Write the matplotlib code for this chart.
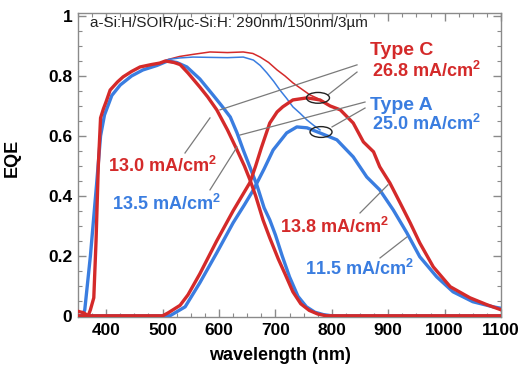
import matplotlib
matplotlib.use("Agg")
import matplotlib.pyplot as plt
from matplotlib.patches import Ellipse
from matplotlib.ticker import MultipleLocator, FuncFormatter

plt.rcParams['font.family'] = ['Liberation Sans', 'DejaVu Sans']
plt.rcParams['mathtext.fontset'] = 'custom'
plt.rcParams['mathtext.rm'] = 'Liberation Sans:bold'
plt.rcParams['mathtext.bf'] = 'Liberation Sans:bold'

RED = '#d42a2a'
BLUE = '#3a7de0'
GRAY = '#8a8a8a'

# Type C top cell (red, thick)
wl_top_c = [350, 360, 368, 372, 378, 382, 386, 390, 395, 400, 407, 420, 430, 445, 460, 480, 495, 505,
            520, 531, 545, 566, 580, 596, 615, 632, 645, 655, 665, 678, 690, 705, 717, 731, 745, 760,
            775, 790, 800, 1100]
eqe_top_c = [0.015, 0.01, 0.0, 0.02, 0.06, 0.25, 0.5, 0.66, 0.69, 0.715, 0.753, 0.78, 0.797, 0.815, 0.83,
             0.838, 0.843, 0.85, 0.845, 0.838, 0.81, 0.763, 0.73, 0.687, 0.62, 0.553, 0.50, 0.453, 0.40,
             0.32, 0.26, 0.19, 0.14, 0.08, 0.04, 0.018, 0.006, 0.0, 0.0, 0.0]

# Type A top cell (blue, thick)
wl_top_a = [350, 358, 362, 372, 383, 390, 397, 403, 410, 425, 445, 465, 490, 509, 525, 543,
            566, 590, 605, 620, 632, 643, 655, 667, 680, 690, 700, 712, 725, 740, 755, 770, 785, 800, 1100]
eqe_top_a = [0.0, 0.0, 0.02, 0.2, 0.44, 0.6, 0.67, 0.7, 0.735, 0.77, 0.80, 0.82, 0.835,
             0.85, 0.845, 0.83, 0.79, 0.735, 0.70, 0.663, 0.61, 0.553, 0.495, 0.437, 0.36, 0.32, 0.27,
             0.20, 0.13, 0.065, 0.03, 0.012, 0.004, 0.0, 0.0]

# Type C bottom cell (red, thick)
wl_bot_c = [350, 500, 510, 531, 545, 566, 596, 625, 655, 665, 675, 690, 703, 713, 731, 756, 779, 797,
            815, 838, 856, 874, 885, 903, 921, 939, 956, 980, 1010, 1045, 1075, 1100]
eqe_bot_c = [0.0, 0.0, 0.01, 0.035, 0.07, 0.14, 0.25, 0.35, 0.445, 0.50, 0.56, 0.643, 0.68, 0.697, 0.72,
             0.727, 0.72, 0.70, 0.687, 0.643, 0.58, 0.547, 0.497, 0.443, 0.377, 0.31, 0.243, 0.163,
             0.097, 0.06, 0.037, 0.02]

# Type A bottom cell (blue, thick)
wl_bot_a = [350, 513, 540, 566, 596, 625, 645, 661, 680, 696, 720, 738, 756, 779, 809, 838, 862, 885,
            909, 933, 956, 986, 1015, 1050, 1086, 1100]
eqe_bot_a = [0.0, 0.0, 0.03, 0.11, 0.21, 0.31, 0.37, 0.42, 0.49, 0.553, 0.61, 0.63, 0.627, 0.61, 0.587,
             0.53, 0.463, 0.42, 0.353, 0.277, 0.197, 0.13, 0.08, 0.047, 0.03, 0.025]

# Total (thin lines)
wl_tot_c = [495, 510, 530, 554, 584, 615, 643, 660, 673, 688, 703, 717, 731, 746, 761, 775]
eqe_tot_c = [0.843, 0.855, 0.865, 0.872, 0.88, 0.878, 0.88, 0.875, 0.863, 0.845, 0.82, 0.80, 0.777,
             0.757, 0.737, 0.725]
wl_tot_a = [495, 510, 530, 554, 584, 615, 643, 661, 673, 685, 697, 708, 720, 731, 744, 756, 768, 779]
eqe_tot_a = [0.843, 0.855, 0.86, 0.863, 0.862, 0.861, 0.863, 0.853, 0.835, 0.81, 0.782, 0.753, 0.725,
             0.697, 0.675, 0.653, 0.635, 0.62]

x_ticks = [400, 500, 600, 700, 800, 900, 1000, 1100]
y_ticks = [0, 0.2, 0.4, 0.6, 0.8, 1.0]

fig = plt.figure(figsize=(5.24, 3.68), dpi=100)
ax = fig.add_axes([78 / 524, (368 - 317) / 368, 423 / 524, 304 / 368])

ax.plot(wl_tot_c, eqe_tot_c, color=RED, lw=1.1, zorder=3)
ax.plot(wl_tot_a, eqe_tot_a, color=BLUE, lw=1.1, zorder=3)
ax.plot(wl_top_a, eqe_top_a, color=BLUE, lw=2.4, zorder=4)
ax.plot(wl_bot_a, eqe_bot_a, color=BLUE, lw=2.4, zorder=4)
ax.plot(wl_top_c, eqe_top_c, color=RED, lw=2.4, zorder=5)
ax.plot(wl_bot_c, eqe_bot_c, color=RED, lw=2.4, zorder=5)

ax.set_xlim(350, 1100)
ax.set_ylim(-0.004, 1.01)
ax.set_xticks(x_ticks)
ax.set_yticks(y_ticks)
ax.xaxis.set_minor_locator(MultipleLocator(25))
ax.yaxis.set_minor_locator(MultipleLocator(0.05))
ax.yaxis.set_major_formatter(FuncFormatter(lambda v, p: '%g' % v))
ax.tick_params(which='both', direction='in', top=True, right=True, color=GRAY)
ax.tick_params(which='major', length=6, width=1, labelsize=12.5, pad=4)
ax.tick_params(which='minor', length=3, width=0.8)
for lab in ax.get_xticklabels() + ax.get_yticklabels():
    lab.set_fontweight('bold')
for s in ax.spines.values():
    s.set_color(GRAY)
    s.set_linewidth(1)

fig.text(12 / 524, 1 - 158 / 368, 'EQE', rotation=90, ha='center', va='center',
         fontsize=13, fontweight='bold')
fig.text(280 / 524, 1 - 355 / 368, 'wavelength (nm)', ha='center', va='center',
         fontsize=13, fontweight='bold')

ax.text(371, 0.978, 'a-Si:H/SOIR/µc-Si:H: 290nm/150nm/3µm', ha='left', va='center',
        fontsize=11, color='#222222')

def lab(x, y, s, c, size=13):
    ax.text(x, y, s, color=c, fontsize=size, fontweight='bold', ha='left', va='baseline', zorder=6)

lab(868, 0.87, 'Type C', RED, 14)
lab(871, 0.797, r'26.8 mA/cm$^\mathbf{2}$', RED)
lab(868, 0.687, 'Type A', BLUE, 14)
lab(871, 0.62, r'25.0 mA/cm$^\mathbf{2}$', BLUE)
lab(403, 0.48, r'13.0 mA/cm$^\mathbf{2}$', RED)
lab(410, 0.353, r'13.5 mA/cm$^\mathbf{2}$', BLUE)
lab(708, 0.277, r'13.8 mA/cm$^\mathbf{2}$', RED)
lab(752, 0.137, r'11.5 mA/cm$^\mathbf{2}$', BLUE)

leaders = [((844.7, 0.837), (601.8, 0.687)),
           ((844.7, 0.813), (793.3, 0.737)),
           ((858.9, 0.713), (637.2, 0.603)),
           ((858.9, 0.693), (800.4, 0.63)),
           ((584.0, 0.66), (539.7, 0.543)),
           ((631.9, 0.563), (584.0, 0.42)),
           ((899.6, 0.437), (850.0, 0.343)),
           ((933.3, 0.263), (885.5, 0.193))]
for (x0, y0), (x1, y1) in leaders:
    ax.plot([x0, x1], [y0, y1], color='#7a7a7a', lw=0.9, zorder=7)

ax.add_patch(Ellipse((775.5, 0.727), 40.8, 0.036, fill=False, ec='#222222', lw=1.0, zorder=8))
ax.add_patch(Ellipse((780.9, 0.613), 39.0, 0.036, fill=False, ec='#222222', lw=1.0, zorder=8))

fig.savefig('out.png', dpi=100)
